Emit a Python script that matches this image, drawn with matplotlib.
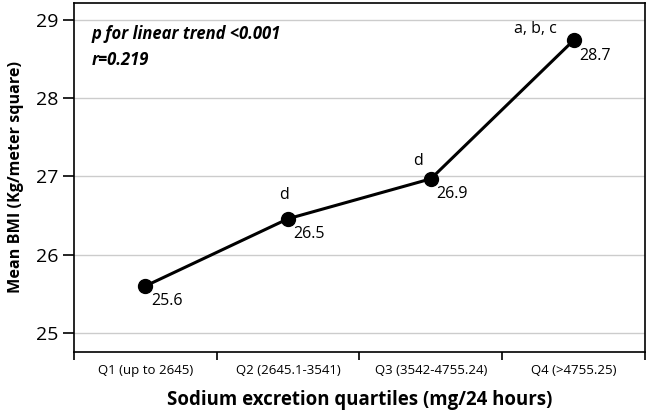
import matplotlib.pyplot as plt

plt.rcParams['font.family'] = ['Open Sans', 'DejaVu Sans']

categories = ["Q1 (up to 2645)", "Q2 (2645.1-3541)", "Q3 (3542-4755.24)", "Q4 (>4755.25)"]
mean_bmi = [25.6, 26.46, 26.97, 28.74]
value_labels = ["25.6", "26.5", "26.9", "28.7"]
sig_labels = ["", "d", "d", "a, b, c"]
y_ticks = [25, 26, 27, 28, 29]

# label offsets in points (style only)
sig_offsets = [(0, 0), (-3, 17), (-9, 13), (-12, 8)]

fig = plt.figure(figsize=(6.49, 4.11), dpi=100)
ax = fig.add_axes([0.114, 0.1436, 0.8798, 0.8491])

x = list(range(len(categories)))
ax.plot(x, mean_bmi, color="black", linewidth=2.2, marker="o",
        markersize=10, zorder=3)

for i, v in enumerate(mean_bmi):
    ax.annotate(value_labels[i], (i, v), xytext=(4, -11), textcoords="offset points",
                ha="left", va="center", fontsize=11.5)
    if sig_labels[i]:
        ax.annotate(sig_labels[i], (i, v), xytext=sig_offsets[i], textcoords="offset points",
                    ha="center" if len(sig_labels[i]) == 1 else "right",
                    va="center", fontsize=11.5)

ax.text(0.031, 0.91, "p for linear trend <0.001", transform=ax.transAxes,
        fontsize=12, fontweight="bold", style="italic", va="center")
ax.text(0.031, 0.836, "r=0.219", transform=ax.transAxes,
        fontsize=12, fontweight="bold", style="italic", va="center")

ax.set_xlim(-0.5, 3.5)
ax.set_ylim(24.757, 29.217)
ax.set_yticks(y_ticks)
ax.tick_params(axis="y", labelsize=14, length=8, width=1.2)
ax.set_xticks([i - 0.5 for i in range(len(categories) + 1)])
ax.set_xticklabels([])
ax.set_xticks(x, minor=True)
ax.set_xticklabels(categories, minor=True, fontsize=9.5)
ax.tick_params(axis="x", which="major", length=5.5, width=1.2)
ax.tick_params(axis="x", which="minor", length=0, pad=9)

ax.yaxis.grid(True, color="#cccccc", linewidth=1)
ax.set_axisbelow(True)
for s in ax.spines.values():
    s.set_linewidth(1.2)

ax.set_ylabel("Mean BMI (Kg/meter square)", fontsize=11.6, fontweight="bold", labelpad=8)
ax.set_xlabel("Sodium excretion quartiles (mg/24 hours)", fontsize=13.4,
              fontweight="bold", labelpad=9)

fig.savefig("out.png", dpi=100)
